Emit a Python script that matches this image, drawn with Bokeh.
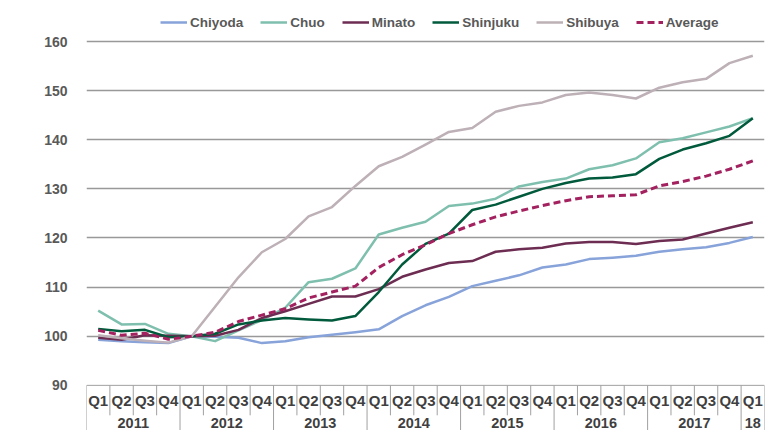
import numpy as np
from bokeh.plotting import figure
from bokeh.models import Range1d, FixedTicker, Legend, LegendItem, Label
from bokeh.core.properties import value
from bokeh.embed import file_html
from bokeh.resources import INLINE

# ---------------- data ----------------
quarters = ["Q1", "Q2", "Q3", "Q4"] * 7 + ["Q1"]
years = ["2011", "2012", "2013", "2014", "2015", "2016", "2017", "18"]
year_counts = [4, 4, 4, 4, 4, 4, 4, 1]

chiyoda = [99.3, 99.0, 98.8, 98.6, 100.0, 99.9, 99.7, 98.6, 99.0, 99.8, 100.3, 100.8, 101.4,
           104.1, 106.3, 108.0, 110.2, 111.3, 112.4, 114.0, 114.6, 115.7, 116.0, 116.4,
           117.2, 117.7, 118.1, 119.0, 120.2]
chuo = [105.2, 102.4, 102.5, 100.5, 100.0, 99.0, 101.2, 103.3, 105.8, 111.0, 111.7, 113.8, 120.7,
        122.1, 123.3, 126.5, 127.0, 128.0, 130.5, 131.4, 132.1, 134.0, 134.8, 136.2,
        139.5, 140.3, 141.5, 142.7, 144.4]
minato = [99.7, 99.3, 100.2, 100.1, 100.0, 100.1, 101.3, 103.7, 105.1, 106.6, 108.1, 108.1, 109.6,
          112.1, 113.6, 114.9, 115.3, 117.2, 117.7, 118.0, 118.9, 119.2, 119.2, 118.8,
          119.4, 119.7, 120.9, 122.1, 123.2]
shinjuku = [101.5, 101.0, 101.3, 99.8, 100.0, 100.5, 102.4, 103.2, 103.7, 103.4, 103.2, 104.1, 109.0,
            114.6, 118.8, 120.9, 125.7, 126.8, 128.4, 130.0, 131.2, 132.1, 132.3, 133.0,
            136.1, 138.0, 139.3, 140.8, 144.4]
shibuya = [100.2, 99.6, 99.1, 98.7, 100.0, 106.0, 112.0, 117.1, 119.8, 124.4, 126.3, 130.6, 134.6,
           136.5, 139.0, 141.6, 142.4, 145.7, 146.9, 147.6, 149.1, 149.6, 149.1, 148.4,
           150.6, 151.7, 152.4, 155.6, 157.1]
average = [101.2, 100.2, 100.6, 99.4, 100.0, 100.8, 103.0, 104.3, 105.6, 107.8, 109.0, 110.2, 114.0,
           116.6, 118.6, 120.9, 122.7, 124.3, 125.5, 126.6, 127.6, 128.4, 128.6, 128.8,
           130.6, 131.5, 132.6, 134.0, 135.7]

series_names = ["Chiyoda", "Chuo", "Minato", "Shinjuku", "Shibuya", "Average"]
y_ticks = [90, 100, 110, 120, 130, 140, 150, 160]
y_label = "Q1/2012 = 100"

# ---------------- styling ----------------
FONT = "Liberation Sans"
colors = ["#87a3d9", "#7fbfae", "#6d2c52", "#005a3b", "#bdb0b6", "#a3215f"]
widths = [2.5, 2.5, 2.5, 2.5, 2.5, 3.0]
dashes = ["solid"] * 5 + ["7 4"]

n = len(quarters)
y_bottom, y_top = 80.81, 168.35

p = figure(width=777, height=430, output_backend="svg", toolbar_location=None,
           x_range=Range1d(-0.5, n - 0.5), y_range=Range1d(y_bottom, y_top),
           x_axis_location=None, min_border_left=86, min_border_right=13,
           min_border_top=0, min_border_bottom=0)
p.outline_line_color = None
p.background_fill_color = "white"
for g in p.xgrid:
    g.visible = False

p.yaxis.ticker = FixedTicker(ticks=y_ticks)
p.yaxis.axis_line_color = None
p.yaxis.major_tick_line_color = None
p.yaxis.minor_tick_line_color = None
p.yaxis.major_tick_out = 0
p.yaxis.major_tick_in = 0
p.yaxis.major_label_standoff = 19
p.yaxis.major_label_text_font = FONT
p.yaxis.major_label_text_font_style = "bold"
p.yaxis.major_label_text_font_size = "14px"
p.yaxis.major_label_text_color = "#595959"

p.ygrid.ticker = FixedTicker(ticks=y_ticks[1:])
p.ygrid.grid_line_color = "#999999"
p.ygrid.grid_line_width = 1.5

# ---------------- category table (x axis) ----------------
xs = np.arange(n)
row_split = 83.9
tcol = "#a0a0a0"
p.segment(x0=[-0.5], y0=[y_ticks[0]], x1=[n - 0.5], y1=[y_ticks[0]], line_color=tcol, line_width=1)
vx, vy1 = [], []
for k in range(n + 1):
    vx.append(k - 0.5)
    if k == 0 or k == n or quarters[k] == "Q1":
        vy1.append(y_bottom)
    else:
        vy1.append(row_split)
p.segment(x0=vx, y0=[y_ticks[0]] * len(vx), x1=vx, y1=vy1, line_color=tcol, line_width=1)

p.text(x=xs, y=[(y_ticks[0] + row_split) / 2 - 0.05] * n, text=quarters,
       text_align="center", text_baseline="middle", text_font=value(FONT),
       text_font_style="bold", text_font_size="15px", text_color="#3f3f3f")
starts = np.cumsum([0] + year_counts[:-1])
ycent = [s + (c - 1) / 2 for s, c in zip(starts, year_counts)]
p.text(x=ycent, y=[(row_split + y_bottom) / 2 - 0.1] * len(years), text=years,
       text_align="center", text_baseline="middle", text_font=value(FONT),
       text_font_style="bold", text_font_size="14.5px", text_color="#3f3f3f")

# ---------------- lines ----------------
all_series = [chiyoda, chuo, minato, shinjuku, shibuya, average]
items = []
for name, data, c, w, d in zip(series_names, all_series, colors, widths, dashes):
    r = p.line(xs, data, line_color=c, line_width=w, line_dash=d, line_join="round")
    items.append(LegendItem(label=name, renderers=[r]))

legend = Legend(items=items, orientation="horizontal", location=(74, 400),
                label_text_font=FONT, label_text_font_style="bold",
                label_text_font_size="13.5px", label_text_color="#595959",
                glyph_width=27, glyph_height=16, label_height=16, label_standoff=3,
                spacing=17, padding=0, margin=0, border_line_color=None,
                background_fill_alpha=0)
p.add_layout(legend)

p.add_layout(Label(x=-3.15, y=127.1, text=y_label, angle=np.pi / 2,
                   text_align="center", text_baseline="middle", text_font=FONT,
                   text_font_style="bold", text_font_size="13px", text_color="#595959"))

open("out.html", "w").write(file_html(p, INLINE))
